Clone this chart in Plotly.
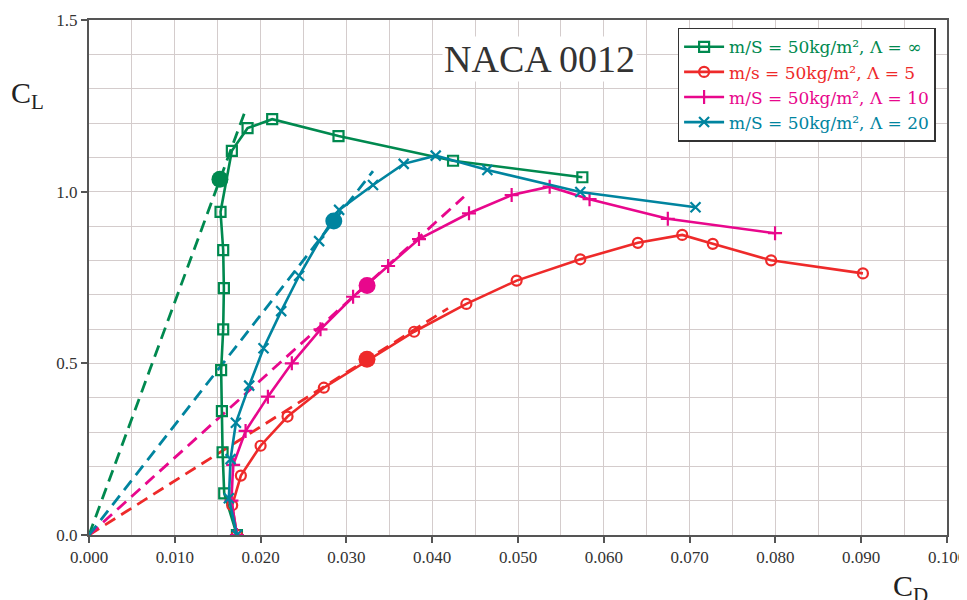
import plotly.graph_objects as go

# Λ = ∞ (green)
cd_inf = [0.01724, 0.01576, 0.01557, 0.01549, 0.0154, 0.01564, 0.01572, 0.01564, 0.01533, 0.01665, 0.01848, 0.02135, 0.02908, 0.04243, 0.0575]
cl_inf = [0.0, 0.1215, 0.241, 0.361, 0.48, 0.599, 0.719, 0.830, 0.941, 1.119, 1.185, 1.211, 1.162, 1.090, 1.042]
# Λ = 5 (red)
cd_5 = [0.01724, 0.01669, 0.0177, 0.0200, 0.02314, 0.02737, 0.03789, 0.04398, 0.04984, 0.05726, 0.06397, 0.06914, 0.0727, 0.0795, 0.0902]
cl_5 = [0.0, 0.0865, 0.173, 0.260, 0.345, 0.429, 0.592, 0.673, 0.741, 0.803, 0.851, 0.874, 0.848, 0.800, 0.762]
# Λ = 10 (magenta)
cd_10 = [0.01724, 0.0166, 0.0168, 0.01825, 0.02085, 0.02364, 0.02698, 0.03078, 0.03486, 0.03846, 0.04429, 0.04926, 0.05369, 0.05834, 0.06746, 0.07996]
cl_10 = [0.0, 0.10, 0.204, 0.303, 0.403, 0.500, 0.599, 0.694, 0.7835, 0.862, 0.937, 0.990, 1.0146, 0.978, 0.921, 0.879]
# Λ = 20 (teal)
cd_20 = [0.01724, 0.0163, 0.0165, 0.01712, 0.01867, 0.02034, 0.0224, 0.02449, 0.02682, 0.02915, 0.0331, 0.03668, 0.04041, 0.04643, 0.05726, 0.07069]
cl_20 = [0.0, 0.107, 0.221, 0.327, 0.435, 0.544, 0.652, 0.755, 0.856, 0.947, 1.0195, 1.081, 1.105, 1.063, 0.999, 0.9545]

# max glide ratio points (big dots)
dot_cd = [0.01526, 0.0324, 0.03241, 0.02853]
dot_cl = [1.036, 0.512, 0.727, 0.9147]
# tangent lines from origin: end points
tan_cd_end = [0.01817, 0.04185, 0.0437, 0.0331]
tan_cl_end = [1.233, 0.660, 0.985, 1.060]

names = ["m/S = 50kg/m², Λ = ∞",
         "m/s = 50kg/m², Λ = 5",
         "m/S = 50kg/m², Λ = 10",
         "m/S = 50kg/m², Λ = 20"]
colors = ["#00894f", "#ee2a2a", "#e8078c", "#00849f"]
symbols = ["square-open", "circle-open", "cross-thin", "x-thin"]
series = [(cd_inf, cl_inf), (cd_5, cl_5), (cd_10, cl_10), (cd_20, cl_20)]

FONT = "Liberation Serif"
fig = go.Figure()

# tangent dashed lines
for i in range(4):
    fig.add_trace(go.Scatter(x=[0, tan_cd_end[i]], y=[0, tan_cl_end[i]], mode="lines",
                             line=dict(color=colors[i], width=2.8, dash="12px,7px"),
                             showlegend=False, hoverinfo="skip"))

for i, (xs, ys) in enumerate(series):
    fig.add_trace(go.Scatter(
        x=xs, y=ys, mode="lines+markers",
        name="<span style='color:%s'>%s</span>" % (colors[i], names[i]),
        line=dict(color=colors[i], width=2.6),
        marker=dict(symbol=symbols[i], size=10, color=colors[i],
                    line=dict(color=colors[i], width=2.2))))

for i in range(4):
    fig.add_trace(go.Scatter(x=[dot_cd[i]], y=[dot_cl[i]], mode="markers",
                             marker=dict(size=17, color=colors[i]),
                             showlegend=False, hoverinfo="skip"))

fig.update_layout(
    width=967, height=600,
    margin=dict(l=81, r=28, t=12, b=73, autoexpand=False),
    paper_bgcolor="white", plot_bgcolor="white",
    font=dict(family=FONT, color="#333333", size=16),
    legend=dict(x=0.686, y=0.985, xanchor="left", yanchor="top",
                bgcolor="white", bordercolor="#333333", borderwidth=1.5,
                font=dict(family="DejaVu Serif", size=17), tracegroupgap=0,
                itemwidth=40),
    annotations=[
        dict(text="NACA 0012", x=0.0525, xref="x", y=1.385, yref="y",
             xanchor="center", yanchor="middle",
             showarrow=False, font=dict(family=FONT, size=38, color="#333333"),
             bgcolor="white"),
        dict(text="C<sub>L</sub>", x=-0.072, xref="paper", y=0.855, yref="paper",
             xanchor="center", yanchor="middle",
             showarrow=False, font=dict(family=FONT, size=30, color="#222222")),
        dict(text="C<sub>D</sub>", x=0.958, xref="paper", y=-0.103, yref="paper",
             xanchor="center", yanchor="middle",
             showarrow=False, font=dict(family=FONT, size=30, color="#222222")),
    ],
)

axis_common = dict(showgrid=True, gridcolor="#d4cccc", gridwidth=1.2,
                   showline=True, linecolor="#555555", linewidth=2, mirror=True,
                   ticks="outside", ticklen=6, tickcolor="#555555", tickwidth=1.5,
                   zeroline=False, automargin=False,
                   tickfont=dict(family=FONT, size=17, color="#333333"))
fig.update_xaxes(range=[0, 0.1], dtick=0.01, tickformat=".3f",
                 minor=dict(dtick=0.005, showgrid=True, gridcolor="#d4cccc", gridwidth=1.2),
                 **axis_common)
fig.update_yaxes(range=[0, 1.5], dtick=0.5, tickformat=".1f",
                 minor=dict(dtick=0.1, showgrid=True, gridcolor="#d4cccc", gridwidth=1.2),
                 **axis_common)

fig.write_html("out.html")
